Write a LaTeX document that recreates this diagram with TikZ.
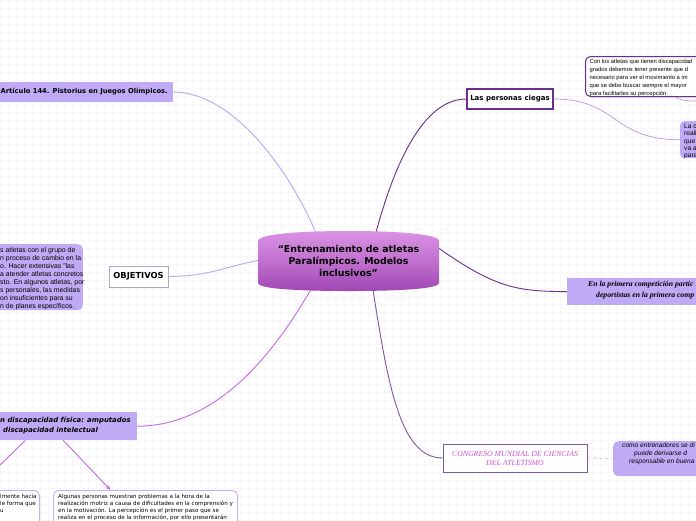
\documentclass[tikz,border=0pt]{standalone}
\usepackage{fontspec}
\setmainfont{Liberation Sans}
\newfontfamily\dejavu{DejaVu Sans}
\newfontfamily\timesf{Liberation Serif}
\usetikzlibrary{calc,arrows.meta,shadows}
\definecolor{lav}{RGB}{192,170,246}
\definecolor{lavline}{RGB}{184,168,244}
\definecolor{lightline}{RGB}{190,150,220}
\definecolor{dpurple}{RGB}{107,45,142}
\definecolor{mag}{RGB}{198,105,222}
\definecolor{cpurple}{RGB}{125,90,155}
\definecolor{pinktext}{RGB}{210,80,210}
\definecolor{ctop}{RGB}{218,146,228}
\definecolor{cbot}{RGB}{160,70,180}
\definecolor{objborder}{RGB}{176,166,200}
\definecolor{lbborder}{RGB}{200,176,240}
\pgfdeclarelayer{grid}
\pgfdeclarelayer{bg}
\pgfsetlayers{grid,bg,main}
\begin{document}
\begin{tikzpicture}[x=1pt,y=-1pt,
  lbl/.style={font=\dejavu\bfseries\fontsize{7}{8}\selectfont},
  small/.style={font=\dejavu\fontsize{5.6}{7}\selectfont, align=left, inner sep=0pt, anchor=north west},
  lavbox/.style={fill=lav, draw=none, inner sep=0pt},
  whitebox/.style={fill=white, inner sep=0pt, drop shadow={opacity=0.25, shadow xshift=1pt, shadow yshift=-1pt}},
  conn/.style={line width=0.9pt}
]
\useasboundingbox (0,0) rectangle (696,520);
\clip (0,0) rectangle (696,520);
\begin{pgfonlayer}{grid}
  \fill[white] (0,0) rectangle (696,520);
  \draw[black!3, line width=0.25pt, step=8pt] (0,0) grid (696,520);
\end{pgfonlayer}

% central node
\shade[top color=ctop, bottom color=cbot, middle color=ctop!55!cbot]
  (258,241) .. controls (258,234) and (300,231) .. (348.5,231)
  .. controls (397,231) and (439,234) .. (439,241) -- (439,283)
  .. controls (439,289) and (397,291) .. (348.5,291)
  .. controls (300,291) and (258,289) .. (258,283) -- cycle;
\node[font=\dejavu\bfseries\fontsize{9.4}{12}\selectfont, align=center, minimum width=181pt, minimum height=52pt, inner sep=0pt] (central) at (348.5,260.5)
  {“Entrenamiento de atletas\\Paralímpicos. Modelos\\inclusivos”};

% top-left box
\node[lavbox, lbl, font=\dejavu\bfseries\fontsize{6.75}{8}\selectfont, anchor=east, minimum height=20pt, inner xsep=5pt] (art) at (173,92) {Artículo 144. Pistorius en Juegos Olímpicos.};

% objetivos
\node[whitebox, draw=objborder, line width=0.8pt, lbl, font=\dejavu\bfseries\fontsize{8.3}{9}\selectfont, minimum width=59pt, minimum height=21pt] (obj) at (138.5,276.5) {OBJETIVOS};
\node[lavbox, rounded corners=5pt, minimum width=100pt, minimum height=66pt, anchor=north east] (objtext) at (83,244) {};
\node[inner sep=0pt, anchor=north west, align=left, font=\fontsize{6.9}{8}\selectfont] (objt) at (0,247.5) {s atletas con el grupo de\\n proceso de cambio en la\\o. Hacer extensivas "las\\a atender atletas concretos\\sto. En algunos atletas, por\\s personales, las medidas\\on insuficientes para su\\n de planes específicos.};

% bottom-left box
\node[lavbox, minimum width=147pt, minimum height=28pt, anchor=north east] (fisica) at (137,412) {};
\node[font=\dejavu\bfseries\itshape\fontsize{6.9}{10}\selectfont, align=left, inner sep=0pt, anchor=north west] (fisicat) at (0,416.5) {n discapacidad física: amputados\\\hspace*{3pt}discapacidad intelectual};

% bottom boxes
\node[fill=white, draw=lbborder, line width=0.9pt, rounded corners=5pt, minimum width=52pt, minimum height=40pt, anchor=north east, inner sep=0pt] (lbox) at (40,490) {};
\node[small] (lboxt) at (0,494) {lmente hacia\\le forma que\\u};
\node[fill=white, draw=lbborder, line width=0.9pt, rounded corners=5pt, minimum width=184pt, minimum height=40pt, anchor=north west, inner sep=0pt] (pbox) at (53,490) {};
\node[small] (pboxt) at (58,494) {Algunas personas muestran problemas a la hora de la\\realización motriz a causa de dificultades en la comprensión y\\en la motivación. La percepción es el primer paso que se\\realiza en el proceso de la información, por ello presentarán};

% las personas ciegas
\node[whitebox, draw=dpurple, line width=1.3pt, lbl, minimum width=86pt, minimum height=20pt] (ciegas) at (510,99) {Las personas ciegas};
\node[whitebox, draw=dpurple, line width=1pt, rounded corners=5pt, minimum width=140pt, minimum height=40pt, anchor=north west] (conlos) at (585,56) {};
\node[small, font=\fontsize{5.8}{7.9}\selectfont] (conlost) at (589.5,59.5) {Con los atletas que tienen discapacidad\\grados debemos tener presente que d\\necesario para ver el movimiento a im\\que se debe buscar siempre el mayor\\para facilitarles su percepción.};
\node[lavbox, rounded corners=4pt, minimum width=40pt, minimum height=37pt, anchor=north west] (lac) at (680,121) {};
\node[small, font=\fontsize{6.6}{7.4}\selectfont] (lact) at (684,123.5) {La c\\reali\\que\\va a\\para};

% en la primera
\node[lavbox, minimum width=150pt, minimum height=27pt, anchor=north west] (prim) at (567,278) {};
\node[font=\timesf\bfseries\itshape\fontsize{7.7}{11}\selectfont, align=left, inner sep=0pt, anchor=north west] (primt) at (588,281) {En la primera competición partic\\\hspace*{8pt}deportistas en la primera comp};

% congreso
\node[whitebox, draw=cpurple, line width=1pt, minimum width=144pt, minimum height=28pt, font=\timesf\itshape\fontsize{7.8}{9}\selectfont, text=pinktext, align=center] (cong) at (515,458) {CONGRESO MUNDIAL DE CIENCIAS\\DEL ATLETISMO};
\node[lavbox, rounded corners=5pt, minimum width=110pt, minimum height=35pt, anchor=north west] (entr) at (613,441) {};
\node[font=\itshape\fontsize{6.6}{7.8}\selectfont, align=left, inner sep=0pt, anchor=north west] (entrt) at (622,443) {como entrenadores se di\\\hspace*{12pt}puede derivarse d\\\hspace*{7pt}responsable en buena};

\coordinate (edgeA) at (697,101);
\coordinate (edgeB) at (-3,468);

\begin{pgfonlayer}{bg}
  \draw[conn, lavline] (art.east) .. controls (235,92) and (292,175) .. ([xshift=-32pt]central.north);
  \draw[conn, lavline] (obj.east) .. controls (210,276) and (220,268) .. (central.west);
  \draw[conn, mag] ([xshift=-36pt]central.south) .. controls (262,375) and (205,426) .. (fisica.east);
  \draw[conn, dpurple] ([xshift=27pt]central.north) .. controls (398,150) and (428,99) .. (ciegas.west);
  \draw[line width=0.7pt, lightline] (ciegas.east) .. controls (618,99) and (612,140) .. (lac.west);
  \draw[line width=0.7pt, lightline] ([xshift=91pt]conlos.south west) .. controls (680,101) and (690,101) .. (edgeA);
  \draw[conn, dpurple] ([yshift=12pt]central.east) .. controls (498,290) and (520,291) .. (prim.west);
  \draw[conn, cpurple] ([xshift=24pt]central.south) .. controls (388,385) and (400,458) .. (cong.west);
  \draw[line width=0.6pt, black!25, dashed] (cong.east) -- (entr.west);
  \draw[conn, mag] ([xshift=-38pt]fisica.south) -- (edgeB);
  \draw[conn, mag, -{Stealth[length=5pt,width=4pt]}] (fisica.south) -- ([xshift=-35pt]pbox.north);
\end{pgfonlayer}
\end{tikzpicture}
\end{document}
